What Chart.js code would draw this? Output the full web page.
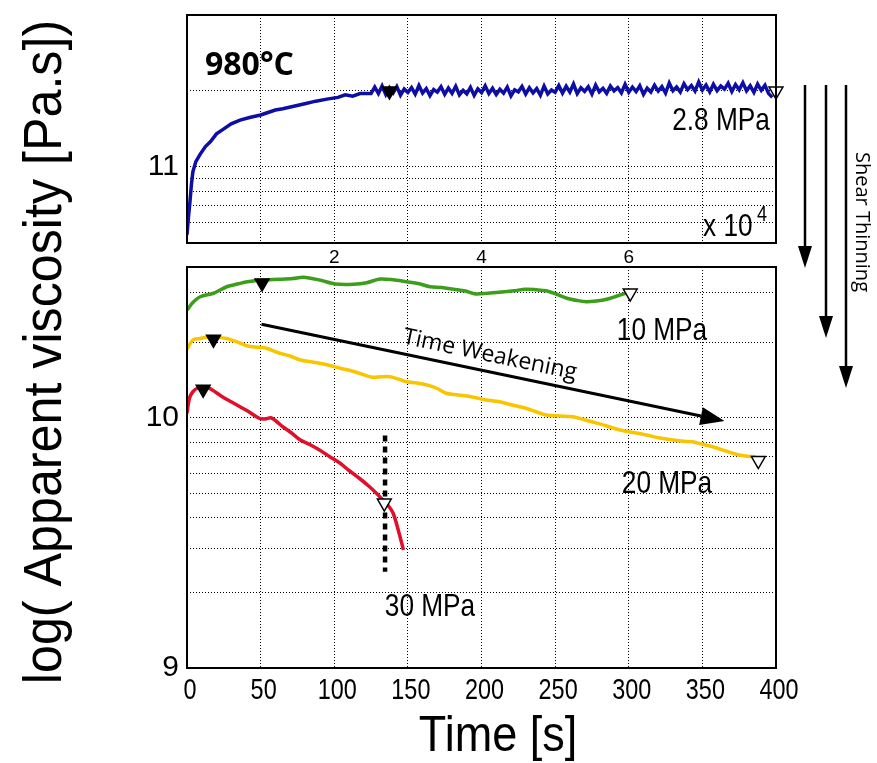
<!DOCTYPE html>
<html>
<head>
<meta charset="utf-8">
<script src="https://cdn.jsdelivr.net/npm/chart.js@4.4.0/dist/chart.umd.min.js"></script>
<style>
  html, body { margin: 0; padding: 0; background: #fff; }
  #wrap { position: relative; width: 877px; height: 763px; }
  #wrap canvas { position: absolute; left: 0; top: 0; }
</style>
</head>
<body>
<div id="wrap">
  <canvas id="topChart" width="877" height="763"></canvas>
  <canvas id="bottomChart" width="877" height="763"></canvas>
</div>
<script>
// ---- top panel: 2.8 MPa, time in units of 1e4 s ----
const time28 = [0, 0.02, 0.04, 0.06, 0.08, 0.12, 0.18, 0.25, 0.32, 0.40, 0.50, 0.60, 0.72, 0.85, 1.0,
  1.1, 1.2, 1.3, 1.45, 1.6, 1.75, 1.9, 2.05, 2.15, 2.25, 2.35, 2.5,
  2.55, 2.60, 2.65, 2.70, 2.75, 2.80, 2.85, 2.90, 2.95, 3.00, 3.05, 3.10, 3.15, 3.20, 3.25, 3.30,
  3.35, 3.40, 3.45, 3.50, 3.55, 3.60, 3.65, 3.70, 3.75, 3.80, 3.85, 3.90, 3.95, 4.00, 4.05, 4.10,
  4.15, 4.20, 4.25, 4.30, 4.35, 4.40, 4.45, 4.50, 4.55, 4.60, 4.65, 4.70, 4.75, 4.80, 4.85, 4.90,
  4.95, 5.00, 5.05, 5.10, 5.15, 5.20, 5.25, 5.30, 5.35, 5.40, 5.45, 5.50, 5.55, 5.60, 5.65, 5.70,
  5.75, 5.80, 5.85, 5.90, 5.95, 6.00, 6.05, 6.10, 6.15, 6.20, 6.25, 6.30, 6.35, 6.40, 6.45, 6.50,
  6.55, 6.60, 6.65, 6.70, 6.75, 6.80, 6.85, 6.90, 6.95, 7.00, 7.05, 7.10, 7.15, 7.20, 7.25, 7.30,
  7.35, 7.40, 7.45, 7.50, 7.55, 7.60, 7.65, 7.70, 7.75, 7.80, 7.85, 7.90, 7.95];
const visc28 = [10.73, 10.80, 10.86, 10.93, 10.98, 11.02, 11.05, 11.08, 11.10, 11.13, 11.15, 11.17, 11.185, 11.195, 11.205,
  11.215, 11.225, 11.23, 11.24, 11.25, 11.26, 11.268, 11.275, 11.285, 11.28, 11.29, 11.29,
  11.316, 11.290, 11.320, 11.286, 11.313, 11.293, 11.318, 11.284, 11.308, 11.295, 11.314, 11.288, 11.322, 11.292, 11.310, 11.282,
  11.306, 11.296, 11.317, 11.287, 11.312, 11.291, 11.319, 11.285, 11.303, 11.289, 11.315, 11.283, 11.309, 11.294, 11.321, 11.290,
  11.311, 11.286, 11.307, 11.292, 11.316, 11.281, 11.305, 11.297, 11.318, 11.288, 11.313, 11.293, 11.310, 11.284, 11.320, 11.289,
  11.304, 11.295, 11.322, 11.292, 11.319, 11.296, 11.328, 11.290, 11.313, 11.299, 11.317, 11.288, 11.324, 11.297, 11.311, 11.291,
  11.320, 11.301, 11.314, 11.293, 11.327, 11.295, 11.316, 11.298, 11.321, 11.287, 11.312, 11.296, 11.323, 11.300, 11.318, 11.292,
  11.332, 11.301, 11.316, 11.296, 11.329, 11.306, 11.322, 11.300, 11.336, 11.304, 11.324, 11.297, 11.327, 11.302, 11.320, 11.308,
  11.331, 11.298, 11.326, 11.305, 11.333, 11.301, 11.321, 11.295, 11.328, 11.303, 11.323, 11.290, 11.275];
const peak28 = [2.75, 11.30];
const end28 = [8.0, 11.30];

// ---- bottom panel: time in s ----
const time10 = [0, 4, 9, 18, 27, 35, 41, 51, 63, 72, 79, 90, 101, 113, 122, 131, 140, 149, 157, 165,
  173, 181, 189, 196, 204, 212, 222, 230, 237, 244, 251, 258, 265, 271, 278, 285, 292, 300];
const visc10 = [10.432, 10.462, 10.485, 10.499, 10.525, 10.537, 10.545, 10.552, 10.555, 10.558, 10.563, 10.552, 10.536, 10.535, 10.541, 10.556, 10.553, 10.545, 10.538, 10.525,
  10.522, 10.515, 10.508, 10.496, 10.499, 10.503, 10.509, 10.515, 10.513, 10.509, 10.495, 10.479, 10.470, 10.465, 10.468, 10.475, 10.488, 10.503];

const time20 = [0, 4, 9, 13, 18, 22, 27, 30, 36, 41, 48, 54, 63, 70, 77, 84, 90, 97, 104, 111,
  117, 126, 132, 138, 144, 149, 156, 163, 170, 176, 183, 190, 197, 203, 212, 221, 230, 237, 244, 253,
  262, 269, 275, 284, 294, 303, 312, 321, 330, 337, 343, 350, 357, 366, 375, 381, 386];
const visc20 = [10.275, 10.312, 10.318, 10.323, 10.324, 10.322, 10.318, 10.312, 10.300, 10.288, 10.283, 10.279, 10.259, 10.248, 10.232, 10.225, 10.219, 10.210, 10.199, 10.190,
  10.179, 10.163, 10.165, 10.165, 10.155, 10.145, 10.140, 10.132, 10.118, 10.099, 10.093, 10.088, 10.080, 10.072, 10.065, 10.052, 10.039, 10.025, 10.012, 10.008,
  10.005, 9.995, 9.985, 9.970, 9.952, 9.942, 9.932, 9.920, 9.912, 9.907, 9.905, 9.895, 9.885, 9.868, 9.852, 9.847, 9.845];

const time30 = [0, 1, 2, 4, 7, 11, 15, 19, 24, 30, 36, 42, 49, 53, 57, 61, 65, 71, 77, 83,
  90, 97, 104, 110, 117, 123, 129, 133, 136, 140, 144, 147];
const visc30 = [10.019, 10.060, 10.085, 10.105, 10.119, 10.122, 10.119, 10.105, 10.085, 10.065, 10.045, 10.025, 9.999, 9.996, 10.001, 9.985, 9.965, 9.940, 9.912, 9.895,
  9.872, 9.845, 9.819, 9.790, 9.759, 9.730, 9.697, 9.672, 9.655, 9.619, 9.540, 9.472];

// peak (filled) and end (open) markers: 10, 20, 30 MPa
const peakTime = [51, 18, 11];
const peakVisc = [10.54, 10.315, 10.115];
const endTime = [301, 388, 134];
const endVisc = [10.50, 9.83, 9.66];

// dashed failure line at 30 MPa, time weakening arrow
const failTime = [134.5, 134.5];
const failVisc = [9.93, 9.385];
const weakFrom = [50.6, 10.375];
const weakTo = [365, 9.988];

// axes
const topGrid = [10.699, 10.778, 10.845, 10.903, 10.954, 11, 11.301];
const topYLabels = [11];
const topXLabels = [2, 4, 6];
const bottomGrid = [9, 9.301, 9.477, 9.602, 9.699, 9.778, 9.845, 9.903, 9.954, 10, 10.301, 10.5];
const bottomYLabels = [9, 10];
const bottomXTicks = [0, 50, 100, 150, 200, 250, 300, 350, 400];

const pressureLabels = ['2.8 MPa', '10 MPa', '20 MPa', '30 MPa'];

const BLUE = '#0e0ea6', GREEN = '#3c9e1a', YELLOW = '#f7c600', RED = '#e0102c';
const HELV = "'Liberation Sans', Arial, sans-serif";
const OPEN = "'Open Sans', sans-serif";

function pts(xs, ys) { return xs.map((x, i) => ({ x: x, y: ys[i] })); }

function text(ctx, str, x, y, font, opt) {
  opt = opt || {};
  ctx.save();
  ctx.translate(x, y);
  if (opt.rot) ctx.rotate(opt.rot);
  ctx.scale(opt.sx || 1, 1);
  ctx.font = font;
  ctx.fillStyle = '#000';
  ctx.textAlign = opt.align || 'center';
  ctx.textBaseline = opt.base || 'middle';
  ctx.fillText(str, 0, 0);
  ctx.restore();
}

function arrow(ctx, x1, y1, x2, y2, lw, headLen, headW) {
  const ang = Math.atan2(y2 - y1, x2 - x1);
  const bx = x2 - Math.cos(ang) * headLen, by = y2 - Math.sin(ang) * headLen;
  ctx.save();
  ctx.strokeStyle = '#000';
  ctx.fillStyle = '#000';
  ctx.lineWidth = lw;
  ctx.beginPath();
  ctx.moveTo(x1, y1);
  ctx.lineTo(bx, by);
  ctx.stroke();
  ctx.beginPath();
  ctx.moveTo(x2, y2);
  ctx.lineTo(bx + Math.sin(ang) * headW, by - Math.cos(ang) * headW);
  ctx.lineTo(bx - Math.sin(ang) * headW, by + Math.cos(ang) * headW);
  ctx.closePath();
  ctx.fill();
  ctx.restore();
}

function frame(ctx, a) {
  ctx.save();
  ctx.strokeStyle = '#000';
  ctx.lineWidth = 2;
  ctx.strokeRect(a.left, a.top, a.right - a.left, a.bottom - a.top);
  ctx.restore();
}

function marker(data, fill) {
  return {
    data: data, showLine: false, pointStyle: 'triangle', rotation: 180,
    pointRadius: 8, pointBackgroundColor: fill, pointBorderColor: '#000',
    pointBorderWidth: 1.5, order: 0, clip: false
  };
}

function line(data, color, width, tension) {
  return {
    data: data, showLine: true, borderColor: color, borderWidth: width,
    pointRadius: 0, tension: tension, order: 1
  };
}

function noPad(s) { s.paddingTop = 0; s.paddingBottom = 0; s.paddingLeft = 0; s.paddingRight = 0; }

function yAxis(min, max, grid, labels) {
  return {
    type: 'linear', min: min, max: max,
    afterBuildTicks: s => { s.ticks = grid.map(v => ({ value: v })); },
    afterFit: s => { s.width = 187; noPad(s); },
    grid: { color: '#000', lineWidth: 1, drawTicks: false },
    border: { display: false, dash: [1, 2] },
    ticks: {
      autoSkip: false, padding: 8, color: '#000',
      font: { family: HELV, size: 30 },
      callback: v => labels.includes(v) ? String(v) : ''
    }
  };
}

const topPlugin = {
  id: 'topDeco',
  afterDraw(chart) {
    const ctx = chart.ctx, a = chart.chartArea;
    frame(ctx, a);
    text(ctx, '980°C', 205, 66, 'bold 32px ' + OPEN, { align: 'left' });
    text(ctx, pressureLabels[0], 721, 121, '32px ' + HELV, { sx: 0.82 });
    text(ctx, 'x 10', 703, 227, '32px ' + HELV, { sx: 0.82, align: 'left' });
    text(ctx, '4', 757, 215, '22px ' + HELV, { sx: 0.82, align: 'left' });
  }
};

new Chart(document.getElementById('topChart'), {
  type: 'scatter',
  data: {
    datasets: [
      marker([{ x: peak28[0], y: peak28[1] }], '#000'),
      marker([{ x: end28[0], y: end28[1] }], '#fff'),
      line(pts(time28, visc28), BLUE, 3.5, 0)
    ]
  },
  options: {
    responsive: false, animation: false,
    layout: { padding: { top: 15, right: 101, left: 0, bottom: 0 } },
    plugins: { legend: { display: false }, tooltip: { enabled: false } },
    scales: {
      x: {
        type: 'linear', min: 0, max: 8,
        afterFit: s => { s.height = 520; noPad(s); },
        grid: { color: '#000', lineWidth: 1, drawTicks: false },
        border: { display: false, dash: [1, 2] },
        ticks: {
          stepSize: 1, autoSkip: false, padding: 3, color: '#000', maxRotation: 0,
          font: { family: HELV, size: 19 },
          callback: v => topXLabels.includes(v) ? String(v) : ''
        }
      },
      y: yAxis(10.697, 11.602, topGrid, topYLabels)
    }
  },
  plugins: [topPlugin]
});

const bottomPlugin = {
  id: 'bottomDeco',
  afterDraw(chart) {
    const ctx = chart.ctx, a = chart.chartArea;
    const xs = chart.scales.x, ys = chart.scales.y;
    frame(ctx, a);

    // x tick labels (narrow face)
    bottomXTicks.forEach(v => {
      text(ctx, String(v), xs.getPixelForValue(v) + 3, 691, '30px ' + HELV, { sx: 0.78 });
    });

    // time weakening arrow
    const x1 = xs.getPixelForValue(weakFrom[0]), y1 = ys.getPixelForValue(weakFrom[1]);
    const x2 = xs.getPixelForValue(weakTo[0]), y2 = ys.getPixelForValue(weakTo[1]);
    arrow(ctx, x1, y1, x2, y2, 3, 24, 9);
    const ang = Math.atan2(y2 - y1, x2 - x1);
    text(ctx, 'Time Weakening', 490, 355, '23px ' + OPEN, { rot: ang });

    // shear thinning arrows, to the right of the panels
    arrow(ctx, a.right + 29, 85, a.right + 29, 268, 2.5, 22, 7);
    arrow(ctx, a.right + 50, 85, a.right + 50, 338, 2.5, 22, 7);
    arrow(ctx, a.right + 70, 85, a.right + 70, 388, 2.5, 22, 7);
    text(ctx, 'Shear Thinning', a.right + 86, 222, '20px ' + OPEN, { rot: Math.PI / 2 });

    text(ctx, pressureLabels[1], 662, 331, '32px ' + HELV, { sx: 0.82 });
    text(ctx, pressureLabels[2], 667, 484, '32px ' + HELV, { sx: 0.82 });
    text(ctx, pressureLabels[3], 430, 607, '32px ' + HELV, { sx: 0.82 });

    // axis titles
    text(ctx, 'log( Apparent viscosity [Pa.s])', 61, 352, '54px ' + HELV,
      { rot: -Math.PI / 2, sx: 0.93, base: 'alphabetic' });
    text(ctx, 'Time [s]', 498, 751, '50px ' + HELV, { sx: 0.9, base: 'alphabetic' });
  }
};

new Chart(document.getElementById('bottomChart'), {
  type: 'scatter',
  data: {
    datasets: [
      marker(pts(peakTime, peakVisc), '#000'),
      marker(pts(endTime, endVisc), '#fff'),
      {
        data: pts(failTime, failVisc), showLine: true, borderColor: '#000',
        borderWidth: 4.5, borderDash: [6, 5], pointRadius: 0, order: 2
      },
      line(pts(time10, visc10), GREEN, 3.5, 0.3),
      line(pts(time20, visc20), YELLOW, 3.5, 0.3),
      line(pts(time30, visc30), RED, 3.5, 0.3)
    ]
  },
  options: {
    responsive: false, animation: false,
    layout: { padding: { top: 267, right: 101, left: 0, bottom: 0 } },
    plugins: { legend: { display: false }, tooltip: { enabled: false } },
    scales: {
      x: {
        type: 'linear', min: 0, max: 400,
        afterFit: s => { s.height = 95; noPad(s); },
        grid: { color: '#000', lineWidth: 1, drawTicks: false },
        border: { display: false, dash: [1, 2] },
        ticks: { stepSize: 50, autoSkip: false, display: false }
      },
      y: yAxis(9, 10.604, bottomGrid, bottomYLabels)
    }
  },
  plugins: [bottomPlugin]
});
</script>
</body>
</html>
